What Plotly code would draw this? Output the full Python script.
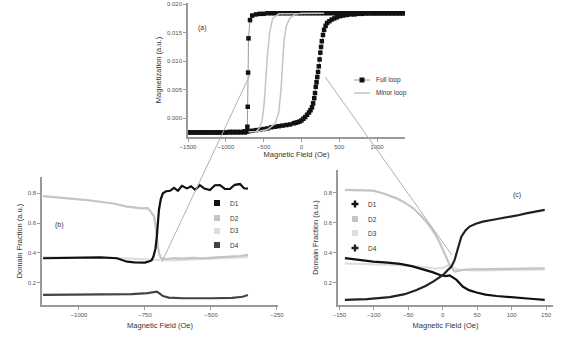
import plotly.graph_objects as go

# ---------------- data ----------------
# (a) full hysteresis loop: descending branch then ascending branch
full_x_desc = [1350, 1300, 1250, 1200, 1150, 1100, 1050, 1000, 950, 900, 850, 800, 750, 700, 650, 600,
               550, 500, 450, 400, 350, 300, 250, 200, 150, 100, 50, 0, -50, -100, -150, -200, -250,
               -300, -350, -400, -450, -500, -550, -600, -650, -680, -700, -705, -710, -715, -730,
               -750, -800, -850, -900, -950, -1000, -1050, -1100, -1150, -1200, -1250, -1300, -1350,
               -1400, -1450, -1500]
full_y_desc = [0.0184, 0.0184, 0.0184, 0.0184, 0.0184, 0.0184, 0.0184, 0.0184, 0.0184, 0.0184, 0.0184,
               0.0184, 0.0184, 0.0184, 0.0184, 0.0184, 0.0184, 0.0184, 0.0184, 0.0184, 0.0184, 0.0184,
               0.0184, 0.0184, 0.0184, 0.0184, 0.0184, 0.0184, 0.0184, 0.0184, 0.0184, 0.0184, 0.0184,
               0.0184, 0.0184, 0.0184, 0.0184, 0.0183, 0.0183, 0.0182, 0.0180, 0.0172, 0.0140, 0.0080,
               0.0020, -0.0015, -0.0024, -0.0025, -0.0025, -0.0025, -0.0025, -0.0025, -0.0025, -0.0025,
               -0.0025, -0.0025, -0.0025, -0.0025, -0.0025, -0.0025, -0.0025, -0.0025, -0.0025]
full_x_asc = [-1500, -1450, -1400, -1350, -1300, -1250, -1200, -1150, -1100, -1050, -1000, -950, -900,
              -850, -800, -750, -700, -650, -600, -550, -500, -450, -400, -350, -300, -250, -200, -150,
              -100, -75, -50, -25, 0, 25, 50, 75, 100, 120, 140, 155, 170, 180, 190, 200, 210, 220, 230,
              240, 250, 260, 270, 285, 300, 320, 340, 370, 400, 435, 470, 510, 550, 600, 650, 700, 750,
              800, 850, 900, 950, 1000, 1050, 1100, 1150, 1200, 1250, 1300, 1350]
full_y_asc = [-0.0025, -0.0025, -0.0025, -0.0025, -0.0025, -0.0025, -0.0025, -0.0025, -0.0025, -0.0025,
              -0.0025, -0.0024, -0.0024, -0.0024, -0.0024, -0.0023, -0.0023, -0.0022, -0.0021, -0.0020,
              -0.0019, -0.0018, -0.0016, -0.0015, -0.0014, -0.0013, -0.0012, -0.0011, -0.0009, -0.0008,
              -0.0007, -0.0006, -0.0004, -0.0001, 0.0002, 0.0006, 0.0010, 0.0014, 0.0019, 0.0026, 0.0035,
              0.0044, 0.0055, 0.0063, 0.0072, 0.0081, 0.0091, 0.0103, 0.0115, 0.0125, 0.0135, 0.0146,
              0.0155, 0.0162, 0.0167, 0.0170, 0.0173, 0.0175, 0.0177, 0.0179, 0.0180, 0.0181, 0.0182,
              0.0182, 0.0183, 0.0183, 0.0184, 0.0184, 0.0184, 0.0184, 0.0184, 0.0184, 0.0184, 0.0184,
              0.0184, 0.0184, 0.0184]
minor_x = [-700, -600, -450, -350, -300, -270, -250, -230, -200, -150, -80, 0, 300,
           300, -300, -380, -420, -450, -470, -490, -520, -560, -600, -700]
minor_y = [-0.0024, -0.0024, -0.0020, -0.0010, 0.0010, 0.0050, 0.0095, 0.0135, 0.0162, 0.0176, 0.0182,
           0.0184, 0.0184, 0.0184, 0.0183, 0.0175, 0.0150, 0.0110, 0.0070, 0.0030, -0.0005, -0.0018,
           -0.0024, -0.0024]

# (b) populations near the negative switching field
b_d1_x = [-1136, -1050, -980, -920, -856, -818, -790, -769, -750, -738, -725, -718, -710, -705, -700,
          -697, -690, -682, -670, -655, -640, -625, -610, -591, -575, -560, -542, -525, -504, -485,
          -466, -447, -428, -410, -390, -375, -360]
b_d1_y = [0.365, 0.366, 0.368, 0.371, 0.365, 0.342, 0.338, 0.336, 0.336, 0.342, 0.350, 0.376, 0.430,
          0.509, 0.620, 0.687, 0.760, 0.798, 0.812, 0.815, 0.835, 0.815, 0.848, 0.831, 0.845, 0.822,
          0.853, 0.830, 0.820, 0.852, 0.853, 0.828, 0.827, 0.855, 0.860, 0.832, 0.830]
b_d2_x = [-1136, -1050, -980, -920, -870, -818, -790, -760, -740, -728, -715, -708, -701, -695, -689,
          -670, -640, -606, -570, -530, -477, -430, -390, -360]
b_d2_y = [0.780, 0.768, 0.755, 0.742, 0.730, 0.709, 0.702, 0.698, 0.700, 0.676, 0.642, 0.560, 0.442,
          0.390, 0.365, 0.360, 0.366, 0.362, 0.368, 0.364, 0.371, 0.375, 0.380, 0.387]
b_d3_x = [-1136, -1000, -900, -800, -720, -690, -650, -600, -500, -400, -360]
b_d3_y = [0.372, 0.372, 0.370, 0.362, 0.358, 0.352, 0.350, 0.355, 0.360, 0.366, 0.372]
b_d4_x = [-1136, -1000, -900, -800, -740, -705, -695, -682, -660, -606, -500, -420, -380, -360]
b_d4_y = [0.120, 0.120, 0.122, 0.125, 0.132, 0.142, 0.130, 0.113, 0.102, 0.098, 0.098, 0.100, 0.108,
          0.120]

# (c) populations near the positive switching field
c_d1_x = [-142, -120, -101, -80, -62, -45, -28, -15, -4, 4, 10, 15, 20, 29, 38, 49, 62, 78, 96, 116,
          132, 148]
c_d1_y = [0.365, 0.352, 0.342, 0.335, 0.327, 0.312, 0.291, 0.272, 0.253, 0.245, 0.250, 0.235, 0.220,
          0.176, 0.152, 0.136, 0.122, 0.113, 0.105, 0.098, 0.093, 0.087]
c_d2_x = [-142, -120, -101, -85, -67, -55, -43, -33, -24, -16, -9, -3, 3, 10, 17, 23, 29, 45, 68, 100,
          125, 148]
c_d2_y = [0.820, 0.818, 0.815, 0.795, 0.764, 0.735, 0.698, 0.655, 0.609, 0.560, 0.509, 0.455, 0.398,
          0.320, 0.276, 0.280, 0.287, 0.290, 0.291, 0.294, 0.296, 0.298]
c_d3_x = [-142, -100, -60, -30, -10, 0, 8, 15, 25, 50, 100, 148]
c_d3_y = [0.330, 0.325, 0.318, 0.305, 0.295, 0.300, 0.318, 0.300, 0.288, 0.284, 0.286, 0.290]
c_d4_x = [-142, -110, -77, -55, -38, -25, -14, -5, 0.5, 7, 12.6, 17, 20, 24, 27, 33, 39, 48, 58, 75,
          92, 108, 121, 135, 148]
c_d4_y = [0.087, 0.092, 0.105, 0.125, 0.153, 0.180, 0.209, 0.235, 0.253, 0.285, 0.309, 0.350, 0.398,
          0.460, 0.509, 0.550, 0.576, 0.595, 0.609, 0.623, 0.636, 0.650, 0.664, 0.676, 0.687]

loop_names = ["Full loop", "Minor loop"]
series_names = ["D1", "D2", "D3", "D4"]
a_ticks = [-1500, -1000, -500, 0, 500, 1000]
a_yticks = [0.0, 0.005, 0.010, 0.015, 0.020]
b_ticks = [-1000, -750, -500, -250]
c_ticks = [-150, -100, -50, 0, 50, 100, 150]
pop_ticks = [0.2, 0.4, 0.6, 0.8]

# ---------------- layout geometry ----------------
W, H = 566, 339
def dom_x(a, b):
    return [a / W, b / W]
def dom_y(top, bottom):
    return [1 - bottom / H, 1 - top / H]
def px(x):
    return x / W
def py(y):
    return 1 - y / H

A_X, A_Y = dom_x(188, 405), dom_y(3, 137)
B_X, B_Y = dom_x(42, 278), dom_y(177, 305)
C_X, C_Y = dom_x(338, 553), dom_y(170, 305)
A_XR, A_YR = [-1500, 1370], [-0.0033, 0.0202]
B_XR, B_YR = [-1140, -246], [0.053, 0.907]
C_XR, C_YR = [-152, 160], [0.053, 0.953]

BLACK, LGRAY, LLGRAY, DGRAY = "#111111", "#c4c4c4", "#dedede", "#444444"
FONT = "Liberation Sans, Arial, sans-serif"

fig = go.Figure()

# (a)
fig.add_trace(go.Scatter(x=full_x_desc + full_x_asc, y=full_y_desc + full_y_asc, mode="lines+markers",
                         line=dict(color="#9a9a9a", width=1),
                         marker=dict(symbol="square", size=4.5, color=BLACK),
                         name=loop_names[0], xaxis="x", yaxis="y"))
fig.add_trace(go.Scatter(x=minor_x, y=minor_y, mode="lines", line=dict(color=LGRAY, width=1.5),
                         name=loop_names[1], xaxis="x", yaxis="y"))

# (b)
b_colors = [BLACK, LGRAY, LLGRAY, DGRAY]
b_data = [(b_d1_x, b_d1_y), (b_d2_x, b_d2_y), (b_d3_x, b_d3_y), (b_d4_x, b_d4_y)]
for i in [2, 1, 3, 0]:
    xs, ys = b_data[i]
    fig.add_trace(go.Scatter(x=xs, y=ys, mode="lines", line=dict(color=b_colors[i], width=2.2),
                             name=series_names[i], xaxis="x2", yaxis="y2"))

# (c)
c_colors = [BLACK, LGRAY, LLGRAY, "#222222"]
c_data = [(c_d1_x, c_d1_y), (c_d2_x, c_d2_y), (c_d3_x, c_d3_y), (c_d4_x, c_d4_y)]
for i in [2, 1, 0, 3]:
    xs, ys = c_data[i]
    fig.add_trace(go.Scatter(x=xs, y=ys, mode="lines", line=dict(color=c_colors[i], width=2.2),
                             name=series_names[i], xaxis="x3", yaxis="y3"))

axis_common = dict(showline=True, linecolor="#9a9a9a", linewidth=1.5, ticks="outside", ticklen=3,
                   tickcolor="#9a9a9a", showgrid=False, zeroline=False, automargin=False,
                   tickfont=dict(size=6, color="#555555", family=FONT))
title_font = dict(size=7.5, color="#333333", family=FONT)

fig.update_layout(
    template="none",
    width=W, height=H, margin=dict(l=0, r=0, t=0, b=0, pad=0),
    paper_bgcolor="white", plot_bgcolor="white", showlegend=False,
    font=dict(family=FONT, size=7, color="#333333"),
    xaxis=dict(axis_common, domain=A_X, range=A_XR, tickvals=a_ticks, anchor="y",
               title=dict(text="Magnetic Field (Oe)", font=title_font, standoff=2)),
    yaxis=dict(axis_common, domain=A_Y, range=A_YR, tickvals=a_yticks, tickformat=".3f", anchor="x",
               title=dict(text="Magnetization (a.u.)", font=title_font, standoff=4)),
    xaxis2=dict(axis_common, domain=B_X, range=B_XR, tickvals=b_ticks, anchor="y2",
                title=dict(text="Magnetic Field (Oe)", font=title_font, standoff=6)),
    yaxis2=dict(axis_common, domain=B_Y, range=B_YR, tickvals=pop_ticks, tickformat=".1f", anchor="x2",
                title=dict(text="Domain Fraction (a.u.)", font=title_font, standoff=4)),
    xaxis3=dict(axis_common, domain=C_X, range=C_XR, tickvals=c_ticks, anchor="y3",
                title=dict(text="Magnetic Field (Oe)", font=title_font, standoff=6)),
    yaxis3=dict(axis_common, domain=C_Y, range=C_YR, tickvals=pop_ticks, tickformat=".1f", anchor="x3",
                title=dict(text="Domain Fraction (a.u.)", font=title_font, standoff=4)),
)

# panel labels
for txt, xp, yp in [("(a)", 202, 22), ("(b)", 53, 225), ("(c)", 523, 195)]:
    fig.add_annotation(text=txt, x=px(xp), y=py(yp), xref="paper", yref="paper",
                       showarrow=False, font=dict(size=7, color="#333333"))

# ---------------- compact hand-placed legends ----------------
def legend_text(txt, x, y):
    fig.add_annotation(text=txt, x=px(x), y=py(y), xref="paper", yref="paper", xanchor="left",
                       yanchor="middle", showarrow=False, font=dict(size=6.5, color="#333333"))

def legend_square(x, y, color, s=2.5):
    fig.add_shape(type="rect", xref="paper", yref="paper", x0=px(x - s), x1=px(x + s),
                  y0=py(y + s), y1=py(y - s), fillcolor=color, line=dict(width=0))

def legend_cross(x, y, color, s=3.5, t=1.2):
    fig.add_shape(type="rect", xref="paper", yref="paper", x0=px(x - s), x1=px(x + s),
                  y0=py(y + t), y1=py(y - t), fillcolor=color, line=dict(width=0))
    fig.add_shape(type="rect", xref="paper", yref="paper", x0=px(x - t), x1=px(x + t),
                  y0=py(y + s), y1=py(y - s), fillcolor=color, line=dict(width=0))

def legend_line(x, y, color, half=8, w=1.5):
    fig.add_shape(type="line", xref="paper", yref="paper", x0=px(x - half), x1=px(x + half),
                  y0=py(y), y1=py(y), line=dict(color=color, width=w))

# (a)
legend_line(362, 80, "#9a9a9a", w=1)
legend_square(362, 80, BLACK)
legend_text(loop_names[0], 374, 80)
legend_line(362, 93, LGRAY)
legend_text(loop_names[1], 374, 93)
# (b)
for i, yy in enumerate([203, 218, 231, 245]):
    legend_square(217, yy, b_colors[i], s=3)
    legend_text(series_names[i], 228, yy)
# (c)
c_symbols = ["cross", "square", "square", "cross"]
for i, yy in enumerate([204, 219, 233, 248]):
    if c_symbols[i] == "cross":
        legend_cross(355, yy, c_colors[i])
    else:
        legend_square(355, yy, c_colors[i], s=3)
    legend_text(series_names[i], 366, yy)

# zoom connector lines, defined in data coordinates of the panels they join
def to_paper(x, y, xd, xr, yd, yr):
    return (xd[0] + (x - xr[0]) / (xr[1] - xr[0]) * (xd[1] - xd[0]),
            yd[0] + (y - yr[0]) / (yr[1] - yr[0]) * (yd[1] - yd[0]))

p0 = to_paper(-684, 0.0075, A_X, A_XR, A_Y, A_YR)
p1 = to_paper(-686, 0.34, B_X, B_XR, B_Y, B_YR)
q0 = to_paper(316, 0.0072, A_X, A_XR, A_Y, A_YR)
q1 = to_paper(13, 0.387, C_X, C_XR, C_Y, C_YR)
for a, b in [(p0, p1), (q0, q1)]:
    fig.add_shape(type="line", xref="paper", yref="paper", x0=a[0], y0=a[1], x1=b[0], y1=b[1],
                  line=dict(color="#b0b0b0", width=1))

# remove the browser's default 8px page margin so the figure sits at the window origin
fig.write_html("out.html", config={"displayModeBar": False},
               post_script="document.body.style.margin='0';")
